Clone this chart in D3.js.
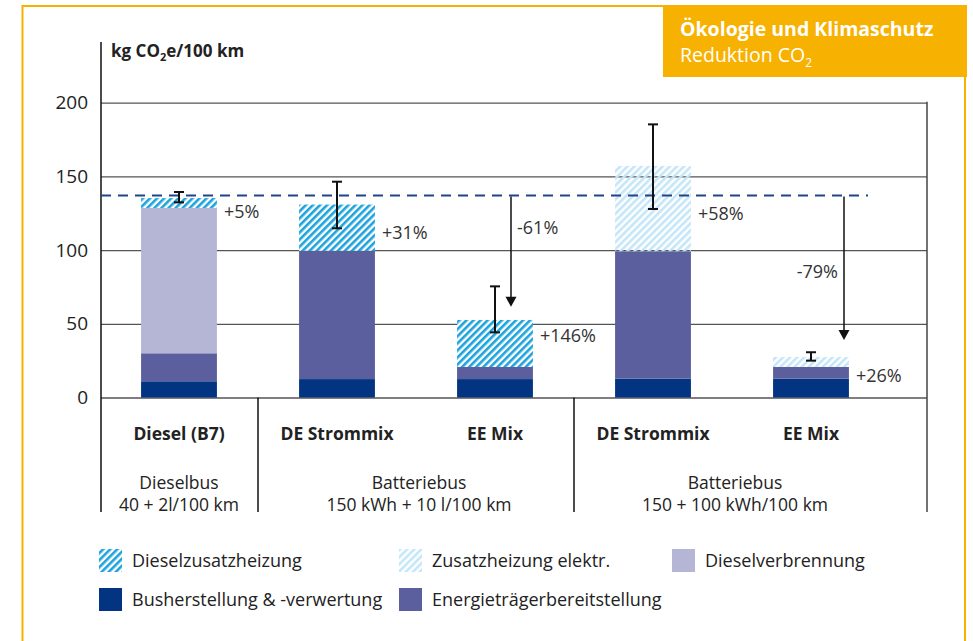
<!DOCTYPE html>
<html>
<head>
<meta charset="utf-8">
<script src="https://cdn.jsdelivr.net/npm/d3@7"></script>
<style>
	body {margin:0; background:#fff;}
	svg text {font-family: "Open Sans", Lato, sans-serif; fill:#222;}
</style>
</head>
<body>
<script>
//categories and groups
var categories = ["Diesel (B7)", "DE Strommix", "EE Mix", "DE Strommix", "EE Mix"];
var groups = [
	{first:0, last:0, line1:"Dieselbus", line2:"40 + 2l/100 km"},
	{first:1, last:2, line1:"Batteriebus", line2:"150 kWh + 10 l/100 km"},
	{first:3, last:4, line1:"Batteriebus", line2:"150 + 100 kWh/100 km"}
];

//stacked values (kg CO2e/100 km), bottom to top
var busherstellung = [11, 12.5, 12.5, 12.8, 12.8];
var energie = [19, 87, 8.2, 86.4, 7.9];
var dieselverbrennung = [98.6, 0, 0, 0, 0];
var dieselzusatz = [6.7, 31.4, 31.9, 0, 0];
var zusatzElektr = [0, 0, 0, 57.9, 6.8];

//error bars
var errLow = [132.4, 114.8, 44.2, 127.9, 25.0];
var errHigh = [139.4, 146.4, 75.4, 185.3, 30.7];

//percent labels and the value where they sit
var pctLabels = ["+5%", "+31%", "+146%", "+58%", "+26%"];
var pctValues = [126, 112, 42, 125, 15];

//reference line (diesel bus) and reduction arrows
var refValue = 137;
var arrows = [
	{cat:2, to:61.6, label:"-61%", labelAt:115},
	{cat:4, to:39, label:"-79%", labelAt:85.3}
];

var yTicks = [0, 50, 100, 150, 200];

var legendItems = [
	{name:"Dieselzusatzheizung", fill:"url(#hatchDark)"},
	{name:"Zusatzheizung elektr.", fill:"url(#hatchLight)"},
	{name:"Dieselverbrennung", fill:"#b5b5d6"},
	{name:"Busherstellung & -verwertung", fill:"#023482"},
	{name:"Energieträgerbereitstellung", fill:"#5c5f9d"}
];

var W = 973, H = 641;
var orange = "#f7b100";

var svg = d3.select("body").append("svg")
	.attr("width", W)
	.attr("height", H);

var defs = svg.append("defs");
function hatch(id, color, bg){
	var p = defs.append("pattern")
		.attr("id", id)
		.attr("patternUnits", "userSpaceOnUse")
		.attr("width", 5).attr("height", 5)
		.attr("patternTransform", "rotate(45)");
	if (bg) p.append("rect").attr("width", 5).attr("height", 5).attr("fill", bg);
	p.append("rect").attr("width", 2.6).attr("height", 5).attr("fill", color);
}
hatch("hatchDark", "#1ca3dd", "#fff");
hatch("hatchLight", "#c4e6f8", null);

defs.append("clipPath").attr("id", "bottomClip")
	.append("rect").attr("x", 0).attr("y", 0).attr("width", W).attr("height", 512);

//frame
svg.append("path")
	.attr("d", "M22.5," + (H + 2) + " V6 H965 V" + (H + 2))
	.attr("fill", "none")
	.attr("stroke", orange)
	.attr("stroke-width", 2);

//badge
svg.append("rect")
	.attr("x", 663).attr("y", 5)
	.attr("width", 304).attr("height", 72)
	.attr("fill", orange);
svg.append("text")
	.attr("x", 680).attr("y", 35.5)
	.style("fill", "#fff")
	.style("font-size", "19.5px")
	.style("font-weight", "bold")
	.text("Ökologie und Klimaschutz");
var sub = svg.append("text")
	.attr("x", 680).attr("y", 62)
	.style("fill", "#fff")
	.style("font-size", "19.5px");
sub.append("tspan").text("Reduktion CO");
sub.append("tspan").attr("dy", 5).style("font-size", "12px").text("2");

//scales
var x0 = 101, x1 = 927;
var xScale = d3.scaleBand()
	.domain(d3.range(categories.length))
	.range([100, 890])
	.paddingInner(0.52)
	.paddingOuter(0.26);
var yScale = d3.scaleLinear().domain([0, 200]).range([397.5, 102.7]);
var bw = xScale.bandwidth();
function cx(i){ return xScale(i) + bw / 2; }

//grid / axis
var yAxis = d3.axisLeft(yScale)
	.tickValues(yTicks)
	.tickSize(-(x1 - x0))
	.tickPadding(13);
var gY = svg.append("g")
	.attr("transform", "translate(" + x0 + ",0)")
	.call(yAxis);
gY.select(".domain").remove();
gY.selectAll("line").attr("stroke", "#555").attr("stroke-width", 1.3);
gY.selectAll("text")
	.style("font-size", "19px")
	.style("font-family", "'Open Sans', sans-serif")
	.style("fill", "#222");

svg.append("line")
	.attr("x1", x0).attr("x2", x0)
	.attr("y1", 42).attr("y2", 512)
	.attr("stroke", "#111").attr("stroke-width", 1.5);
svg.append("line")
	.attr("x1", x1).attr("x2", x1)
	.attr("y1", yScale(200) - 1).attr("y2", 512)
	.attr("stroke", "#444").attr("stroke-width", 1.5);

//y title
var yt = svg.append("text")
	.attr("x", 111).attr("y", 57)
	.style("font-size", "17px")
	.style("font-weight", "bold");
yt.append("tspan").text("kg CO");
yt.append("tspan").attr("dy", 4).style("font-size", "11px").text("2");
yt.append("tspan").attr("dy", -4).text("e/100 km");

//stacks
var layers = [
	{vals:busherstellung, fill:"#023482"},
	{vals:energie, fill:"#5c5f9d"},
	{vals:dieselverbrennung, fill:"#b5b5d6"},
	{vals:dieselzusatz, fill:"url(#hatchDark)"},
	{vals:zusatzElektr, fill:"url(#hatchLight)"}
];
var stackData = categories.map(function(c, i){
	var base = 0;
	return layers.map(function(l){
		var seg = {i:i, y0:base, y1:base + l.vals[i], fill:l.fill};
		base += l.vals[i];
		return seg;
	}).filter(function(s){ return s.y1 > s.y0; });
});
svg.append("g").selectAll("g")
	.data(stackData).enter()
		.append("g")
		.selectAll("rect")
		.data(function(d){ return d; }).enter()
			.append("rect")
			.attr("x", function(d){ return xScale(d.i); })
			.attr("width", bw)
			.attr("y", function(d){ return yScale(d.y1); })
			.attr("height", function(d){ return yScale(d.y0) - yScale(d.y1); })
			.attr("fill", function(d){ return d.fill; });

//reference line
svg.append("line")
	.attr("x1", x0).attr("x2", 868)
	.attr("y1", yScale(refValue)).attr("y2", yScale(refValue))
	.attr("stroke", "#1d4587")
	.attr("stroke-width", 2)
	.attr("stroke-dasharray", "10,7");

//error bars
var errLen = 5;
var gErr = svg.append("g").attr("stroke", "#111").attr("stroke-width", 2);
categories.forEach(function(c, i){
	gErr.append("line")
		.attr("x1", cx(i)).attr("x2", cx(i))
		.attr("y1", yScale(errLow[i])).attr("y2", yScale(errHigh[i]));
	[errLow[i], errHigh[i]].forEach(function(v){
		gErr.append("line")
			.attr("x1", cx(i) - errLen).attr("x2", cx(i) + errLen)
			.attr("y1", yScale(v)).attr("y2", yScale(v));
	});
});

//percent labels
svg.append("g").selectAll("text")
	.data(pctLabels).enter()
		.append("text")
		.attr("x", function(d, i){ return xScale(i) + bw + 7; })
		.attr("y", function(d, i){ return yScale(pctValues[i]); })
		.attr("dy", "0.35em")
		.style("font-size", "18px")
		.style("fill", "#333")
		.text(function(d){ return d; });

//reduction arrows
var arrowOffset = [16, 33];
arrows.forEach(function(a, k){
	var ax = cx(a.cat) + arrowOffset[k];
	var yTip = yScale(a.to);
	svg.append("line")
		.attr("x1", ax).attr("x2", ax)
		.attr("y1", yScale(refValue) + 1).attr("y2", yTip - 9)
		.attr("stroke", "#111").attr("stroke-width", 1.5);
	svg.append("path")
		.attr("d", "M" + (ax - 5.5) + "," + (yTip - 10) + " L" + (ax + 5.5) + "," + (yTip - 10) + " L" + ax + "," + yTip + " Z")
		.attr("fill", "#111");
	svg.append("text")
		.attr("x", k == 0 ? ax + 6 : ax - 6)
		.attr("y", yScale(a.labelAt))
		.attr("dy", "0.35em")
		.attr("text-anchor", k == 0 ? "start" : "end")
		.style("font-size", "18px")
		.style("fill", "#333")
		.text(a.label);
});

//category labels
svg.append("g").selectAll("text")
	.data(categories).enter()
		.append("text")
		.attr("x", function(d, i){ return cx(i); })
		.attr("y", 440)
		.attr("text-anchor", "middle")
		.style("font-size", "17.5px")
		.style("font-weight", "bold")
		.text(function(d){ return d; });

//group separators and labels
var gGroup = svg.append("g").attr("clip-path", "url(#bottomClip)");
groups.forEach(function(g, k){
	if (k > 0) {
		var sx = (cx(g.first) + cx(groups[k - 1].last)) / 2;
		svg.append("line")
			.attr("x1", sx).attr("x2", sx)
			.attr("y1", yScale(0)).attr("y2", 512)
			.attr("stroke", "#111").attr("stroke-width", 1.5);
	}
	var gx = (cx(g.first) + cx(g.last)) / 2 + (k == 0 ? 0 : 3);
	gGroup.append("text")
		.attr("x", gx).attr("y", 489)
		.attr("text-anchor", "middle")
		.style("font-size", "17.5px")
		.text(g.line1);
	gGroup.append("text")
		.attr("x", gx).attr("y", 511)
		.attr("text-anchor", "middle")
		.style("font-size", "17.5px")
		.text(g.line2);
});

//legend
var legPos = [[99, 549], [399, 549], [672, 549], [99, 588], [399, 588]];
var gLeg = svg.append("g");
legendItems.forEach(function(d, i){
	gLeg.append("rect")
		.attr("x", legPos[i][0]).attr("y", legPos[i][1])
		.attr("width", 23).attr("height", 23)
		.attr("fill", d.fill);
	gLeg.append("text")
		.attr("x", legPos[i][0] + 33).attr("y", legPos[i][1] + 11.5)
		.attr("dy", "0.35em")
		.style("font-size", "18px")
		.text(d.name);
});
</script>
</body>
</html>
